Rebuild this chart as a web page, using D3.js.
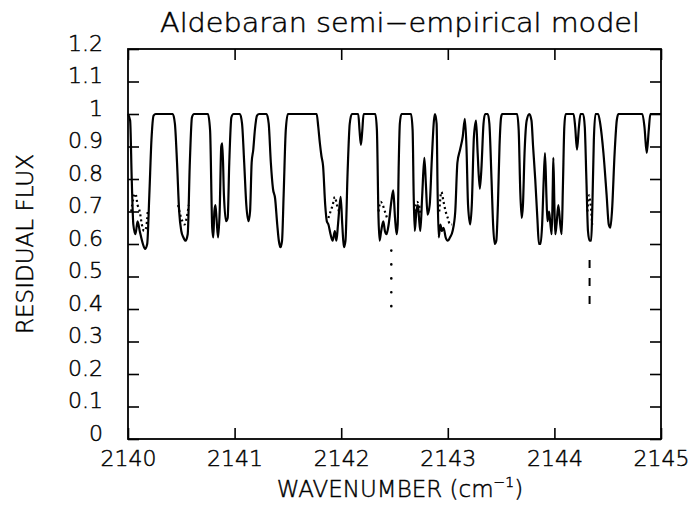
<!DOCTYPE html>
<html>
<head>
<meta charset="utf-8">
<script src="https://cdn.jsdelivr.net/npm/d3@7"></script>
<style>
  body { margin: 0; background: #fff; }
  svg { display: block; }
  text { fill: #000; stroke: #000; stroke-width: 0.45px; }
</style>
</head>
<body>
<div id="chart"></div>
<script>
// Aldebaran CO lines, residual flux vs wavenumber

// solid curve : [wavenumber, residual flux]
const solidModel = [
  [2140.00,1.00],[2140.02,0.98],[2140.035,0.80],[2140.05,0.66],[2140.07,0.63],[2140.09,0.67],[2140.11,0.64],[2140.14,0.60],[2140.16,0.585],[2140.18,0.60],[2140.20,0.75],[2140.22,0.92],[2140.24,0.995],[2140.26,1.00],
  [2140.42,1.00],[2140.44,0.97],[2140.46,0.85],[2140.48,0.70],[2140.50,0.64],[2140.52,0.62],[2140.54,0.61],[2140.56,0.63],[2140.58,0.85],[2140.60,0.99],[2140.62,1.00],
  [2140.75,1.00],[2140.77,0.95],[2140.79,0.65],[2140.80,0.62],[2140.81,0.70],[2140.82,0.72],[2140.83,0.68],[2140.845,0.62],[2140.86,0.70],[2140.875,0.90],[2140.885,0.91],[2140.90,0.75],[2140.92,0.67],[2140.935,0.68],[2140.95,0.85],[2140.97,0.99],[2140.99,1.00],
  [2141.05,1.00],[2141.07,0.97],[2141.09,0.85],[2141.11,0.72],[2141.13,0.67],[2141.145,0.70],[2141.16,0.85],[2141.175,0.89],[2141.19,0.95],[2141.21,0.995],[2141.23,1.00],
  [2141.30,1.00],[2141.32,0.97],[2141.34,0.85],[2141.36,0.77],[2141.38,0.74],[2141.40,0.66],[2141.415,0.61],[2141.43,0.59],[2141.445,0.61],[2141.46,0.75],[2141.48,0.95],[2141.50,1.00],
  [2141.77,1.00],[2141.785,0.96],[2141.80,0.91],[2141.815,0.87],[2141.83,0.84],[2141.85,0.72],[2141.865,0.67],[2141.88,0.66],[2141.90,0.63],[2141.92,0.61],[2141.94,0.64],[2141.955,0.61],[2141.97,0.66],[2141.995,0.745],[2142.01,0.66],[2142.025,0.59],[2142.04,0.61],[2142.06,0.82],[2142.08,0.97],[2142.10,1.00],
  [2142.16,1.00],[2142.172,0.95],[2142.185,0.905],[2142.198,0.95],[2142.21,1.00],
  [2142.32,1.00],[2142.335,0.95],[2142.35,0.68],[2142.36,0.61],[2142.375,0.64],[2142.395,0.67],[2142.41,0.64],[2142.425,0.63],[2142.445,0.66],[2142.47,0.73],[2142.488,0.765],[2142.505,0.68],[2142.52,0.63],[2142.53,0.66],[2142.54,0.85],[2142.55,0.97],[2142.565,1.00],
  [2142.655,1.00],[2142.67,0.95],[2142.68,0.75],[2142.69,0.64],[2142.705,0.70],[2142.72,0.72],[2142.73,0.68],[2142.742,0.64],[2142.76,0.75],[2142.78,0.865],[2142.795,0.78],[2142.81,0.69],[2142.83,0.72],[2142.85,0.86],[2142.87,0.98],[2142.88,1.00],
  [2142.895,0.97],[2142.905,0.75],[2142.915,0.62],[2142.93,0.66],[2142.945,0.64],[2142.96,0.65],[2142.98,0.62],[2143.00,0.61],[2143.02,0.62],[2143.045,0.64],[2143.07,0.70],[2143.09,0.85],[2143.115,0.89],[2143.14,0.93],[2143.16,0.985],[2143.175,0.90],[2143.19,0.72],[2143.21,0.66],[2143.225,0.72],[2143.245,0.93],[2143.265,0.98],[2143.28,0.88],[2143.30,0.77],[2143.315,0.83],[2143.335,0.97],[2143.35,1.00],
  [2143.375,1.00],[2143.39,0.97],[2143.41,0.80],[2143.425,0.66],[2143.44,0.60],[2143.455,0.61],[2143.47,0.72],[2143.485,0.90],[2143.50,0.99],[2143.51,1.00],
  [2143.65,1.00],[2143.665,0.95],[2143.68,0.76],[2143.693,0.68],[2143.705,0.72],[2143.72,0.88],[2143.74,0.98],[2143.765,1.00],
  [2143.785,0.98],[2143.80,0.90],[2143.82,0.80],[2143.84,0.68],[2143.855,0.60],[2143.87,0.60],[2143.885,0.66],[2143.90,0.80],[2143.912,0.88],[2143.925,0.75],[2143.935,0.67],[2143.95,0.70],[2143.963,0.66],[2143.975,0.63],[2143.985,0.78],[2143.99,0.865],[2144.00,0.72],[2144.008,0.63],[2144.02,0.66],[2144.037,0.72],[2144.055,0.66],[2144.068,0.63],[2144.08,0.78],[2144.093,0.96],[2144.105,1.00],
  [2144.18,1.00],[2144.195,0.96],[2144.212,0.89],[2144.23,0.96],[2144.245,1.00],
  [2144.27,1.00],[2144.285,0.96],[2144.30,0.80],[2144.315,0.64],[2144.33,0.61],[2144.345,0.61],[2144.355,0.70],[2144.37,0.92],[2144.385,1.00],
  [2144.41,1.00],[2144.43,0.97],[2144.46,0.88],[2144.49,0.75],[2144.51,0.66],[2144.525,0.65],[2144.54,0.70],[2144.565,0.88],[2144.585,0.98],[2144.60,1.00],
  [2144.825,1.00],[2144.845,0.96],[2144.866,0.88],[2144.885,0.95],[2144.90,1.00],[2145.00,1.00]
];

// dotted curve, only seen where it leaves the solid one (null = gap)
const dottedModel = [
  [2140.03,0.70],[2140.05,0.74],[2140.07,0.755],[2140.09,0.72],[2140.11,0.70],[2140.13,0.66],[2140.15,0.64],[2140.17,0.65],[2140.185,0.70], null,
  [2140.47,0.72],[2140.49,0.69],[2140.51,0.67],[2140.53,0.66],[2140.55,0.68],[2140.57,0.72], null,
  [2141.88,0.68],[2141.90,0.70],[2141.92,0.72],[2141.94,0.745],[2141.96,0.72],[2141.98,0.70], null,
  [2142.35,0.70],[2142.37,0.73],[2142.39,0.72],[2142.41,0.70],[2142.43,0.68], null,
  [2142.69,0.70],[2142.71,0.73],[2142.73,0.72],[2142.745,0.69], null,
  [2142.92,0.70],[2142.94,0.76],[2142.96,0.73],[2142.98,0.70],[2143.00,0.68],[2143.02,0.66],[2143.04,0.66], null,
  [2144.31,0.70],[2144.325,0.75],[2144.34,0.72],[2144.355,0.66]
];

// two vertical line markers under the cores
const markerWave = [2142.47, 2144.33];
const markerTop = [0.58, 0.551];
const markerBottom = [0.405, 0.41];

const waveTicks = [2140, 2141, 2142, 2143, 2144, 2145];
const fluxTicks = [0, 0.1, 0.2, 0.3, 0.4, 0.5, 0.6, 0.7, 0.8, 0.9, 1, 1.1, 1.2];
const fluxLabels = ["0", "0.1", "0.2", "0.3", "0.4", "0.5", "0.6", "0.7", "0.8", "0.9", "1", "1.1", "1.2"];

let width = 688, height = 505;
let font = "'DejaVu Sans', 'Liberation Sans', sans-serif";

let svg = d3.select("#chart").append("svg")
    .attr("width", width).attr("height", height);

let x = d3.scaleLinear().domain([2140, 2145]).range([128, 661]);
let y = d3.scaleLinear().domain([0, 1.2]).range([439, 49]);

// axes, ticks pointing inward on the four sides
let gx = svg.append("g")
    .attr("transform", "translate(0," + y(0) + ")")
    .call(d3.axisBottom(x).tickValues(waveTicks).tickSize(-11).tickSizeOuter(0)
        .tickPadding(11).tickFormat(d => d));
let gy = svg.append("g")
    .attr("transform", "translate(" + x(2140) + ",0)")
    .call(d3.axisLeft(y).tickValues(fluxTicks).tickSize(-11).tickSizeOuter(0)
        .tickPadding(25).tickFormat((d, i) => fluxLabels[i]));
svg.append("g")
    .attr("transform", "translate(" + x(2145) + ",0)")
    .call(d3.axisRight(y).tickValues(fluxTicks).tickSize(-11).tickSizeOuter(0).tickFormat(""));
svg.append("g")
    .attr("transform", "translate(0," + y(1.2) + ")")
    .call(d3.axisTop(x).tickValues(waveTicks).tickSize(-11).tickSizeOuter(0).tickFormat(""));

svg.selectAll(".domain").remove();
svg.selectAll(".tick line").attr("stroke", "#000").attr("stroke-width", 1.6);

gx.selectAll("text").attr("font-size", 22).attr("font-family", font).attr("font-weight", 200);
gy.selectAll("text").attr("font-size", 22).attr("font-family", font).attr("font-weight", 200)
    .attr("dy", "0.05em");

// frame
svg.append("rect")
    .attr("x", x(2140)).attr("y", y(1.2))
    .attr("width", x(2145) - x(2140)).attr("height", y(0) - y(1.2))
    .attr("fill", "none").attr("stroke", "#000").attr("stroke-width", 1.8);

let line = d3.line()
    .defined(d => d != null)
    .x(d => x(d[0]))
    .y(d => y(d[1]))
    .curve(d3.curveMonotoneX);

svg.append("path")
    .datum(dottedModel)
    .attr("d", line)
    .attr("fill", "none")
    .attr("stroke", "#000")
    .attr("stroke-width", 2.2)
    .attr("stroke-dasharray", "2,3");

svg.append("path")
    .datum(solidModel)
    .attr("d", line)
    .attr("fill", "none")
    .attr("stroke", "#000")
    .attr("stroke-width", 2.2)
    .attr("stroke-linejoin", "round");

svg.selectAll(".marker")
    .data(markerWave)
    .enter()
    .append("line")
    .attr("class", "marker")
    .attr("x1", d => x(d)).attr("x2", d => x(d))
    .attr("y1", (d, i) => y(markerTop[i]))
    .attr("y2", (d, i) => y(markerBottom[i]))
    .attr("stroke", "#000")
    .attr("stroke-width", (d, i) => i == 0 ? 2.6 : 2)
    .attr("stroke-linecap", (d, i) => i == 0 ? "round" : "butt")
    .attr("stroke-dasharray", (d, i) => i == 0 ? "0.1,13.8" : "8,10");

// titles
svg.append("text")
    .attr("x", 400).attr("y", 32)
    .attr("text-anchor", "middle")
    .attr("font-family", font).attr("font-size", 26).attr("font-weight", 200)
    .attr("textLength", 480).attr("lengthAdjust", "spacingAndGlyphs")
    .text("Aldebaran semi\u2212empirical model");

let xt = svg.append("text")
    .attr("x", 400).attr("y", 497)
    .attr("text-anchor", "middle")
    .attr("font-family", font).attr("font-size", 23).attr("font-weight", 200);
xt.append("tspan").text("WAVENUMBER (cm");
xt.append("tspan").attr("font-size", 14).attr("dy", -10).text("\u22121");
xt.append("tspan").attr("dy", 10).text(")");

svg.append("text")
    .attr("transform", "translate(33," + ((y(0) + y(1.2)) / 2) + ") rotate(-90)")
    .attr("text-anchor", "middle")
    .attr("font-family", font).attr("font-size", 23).attr("font-weight", 200)
    .text("RESIDUAL FLUX");
</script>
</body>
</html>
